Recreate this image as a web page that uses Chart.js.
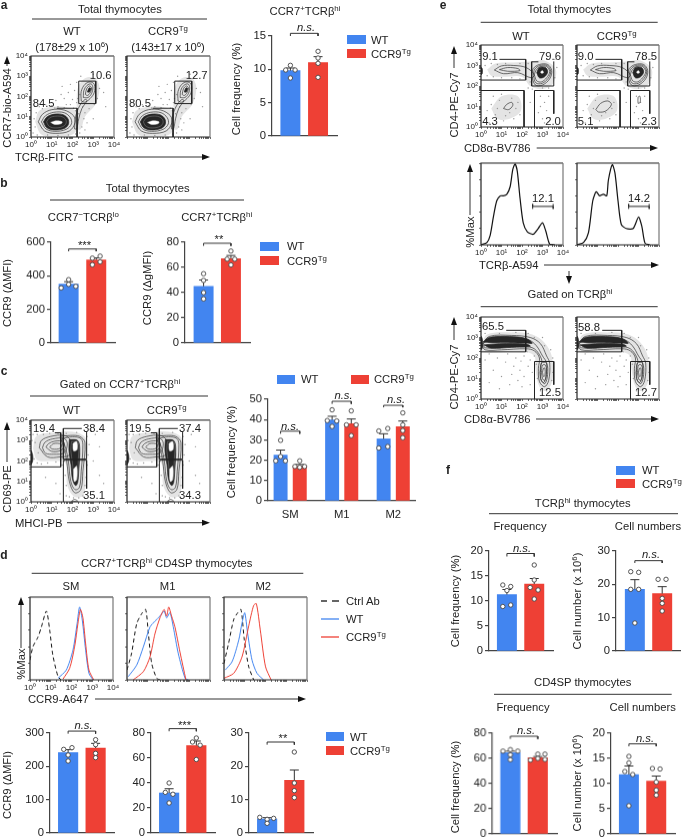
<!DOCTYPE html>
<html>
<head>
<meta charset="utf-8">
<script src="https://cdn.jsdelivr.net/npm/chart.js@4/dist/chart.umd.js"></script>
<style>
html,body{margin:0;padding:0;background:#fff;}
#page{position:relative;width:685px;height:839px;overflow:hidden;font-family:"Liberation Sans",Arial,sans-serif;font-size:11.25px;color:#222;}
#page canvas{position:absolute;}
.t{position:absolute;white-space:nowrap;line-height:12px;}
.t sup{font-size:70%;line-height:0;vertical-align:.5em;}
#lines{position:absolute;left:0;top:0;}
</style>
</head>
<body>
<div id="page"><svg id="lines" width="685" height="839"></svg></div>
<script>
const blue = '#4285f0', red = '#ee4035';
const TG = 'CCR9<sup>Tg</sup>', HI = 'CCR7<sup>+</sup>TCRβ<sup>hi</sup>';

// ---- bar panels: means, errors, dots [x offset, value], bracket [yEnd, yTop]
const aWt = [9.8], aTg = [11.0], aErr = [[0.4], [0.9]];
const aWtDots = [[0, 10.6], [-.17, 9.9], [.17, 9.9], [0, 8.7]];
const aTgDots = [[0, 12.7], [0, 11.7], [0, 10.9], [0, 8.8]];
const aBracket = [15.0, 15.4];

const b1Wt = [350], b1Tg = [495], b1Err = [[15], [12]];
const b1WtDots = [[0, 377], [-.27, 328], [0, 349], [.26, 337]];
const b1TgDots = [[-.14, 505], [.14, 517], [-.14, 466], [.14, 483]];
const b1Bracket = [546, 560];

const b2Wt = [45], b2Tg = [67], b2Err = [[5], [2.5]];
const b2WtDots = [[0, 55], [0, 49.7], [0, 40], [0, 35]];
const b2TgDots = [[0, 73], [-.14, 66.6], [.14, 66.6], [0, 62]];
const b2Bracket = [77.1, 79.2];

const cCats = ['SM', 'M1', 'M2'];
const cWt = [22.5, 39.8, 30.5], cTg = [17, 38, 36.5];
const cErr = [[2.5, 1.8, 2.5], [.9, 2.3, 2.8]];
const cWtDots = [[[0, 29.8], [-.094, 19.7], [0, 21.8], [.094, 19.7]], [[0, 44.8], [-.094, 39.5], [.09, 39.3], [0, 36.6]], [[-.094, 34.4], [.08, 35.6], [-.094, 26], [.08, 26.7]]];
const cTgDots = [[[0, 19.7], [-.094, 16.9], [0, 16.5], [.094, 16.9]], [[0, 44.3], [-.094, 37.4], [.094, 37.4], [0, 32.1]], [[0, 43.3], [0, 37.4], [0, 34.6], [0, 31.1]]];
const cBrackets = [[33, 34.3], [47.7, 49], [46, 47]];

const d1Wt = [241], d1Tg = [255], d1Err = [[9], [14]];
const d1WtDots = [[-.16, 251], [.14, 256], [0, 234], [0, 216]];
const d1TgDots = [[0, 280], [0, 265], [0, 239], [0, 226]];
const d1Bracket = [298, 305.8];

const d2Wt = [32], d2Tg = [70], d2Err = [[3.4], [3.6]];
const d2WtDots = [[0, 40], [-.14, 32.5], [.14, 31], [0, 24]];
const d2TgDots = [[0, 76], [-.14, 72.8], [.14, 70.3], [0, 58.8]];
const d2Bracket = [81.4, 83.5];

const d3Wt = [4.2], d3Tg = [15.8], d3Err = [[.4], [3.1]];
const d3WtDots = [[-.27, 4.7], [0, 4.1], [.24, 4.4], [0, 2.9]];
const d3TgDots = [[0, 24.3], [0, 15], [0, 12.7], [0, 10.6]];
const d3Bracket = [26.5, 27.3];

const f1Wt = [11.3], f1Tg = [13.4], f1Err = [[1.0], [1.1]];
const f1WtDots = [[-.15, 13.2], [.14, 12.9], [0, 12.1], [-.15, 8.9], [.14, 9.2]];
const f1TgDots = [[0, 17.2], [0, 14.2], [-.15, 12.7], [.14, 12.2], [0, 10.4]];
const f1Bracket = [18.9, 19.5];

const f2Wt = [18.5], f2Tg = [17.2], f2Err = [[2.9], [2.1]];
const f2WtDots = [[-.15, 23.8], [.14, 23.6], [-.15, 18.5], [.14, 18.5], [0, 8.4]];
const f2TgDots = [[-.15, 21.5], [.14, 21.5], [0, 15.8], [0, 14.3], [0, 12]];
const f2Bracket = [26.4, 27.1];

const f3Wt = [64.5], f3Tg = [60.5], f3Err = [[1.3], [1]];
const f3WtDots = [[-.27, 65.8], [0, 67], [.27, 65.8], [0, 62.9], [0, 59]];
const f3TgDots = [[-.27, 58.7], [0, 63.4], [.26, 63.4], [0, 60], [.26, 59.2]];
const f3Bracket = [75.5, 77.6];

const f4Wt = [11.8], f4Tg = [10.5], f4Err = [[1.7], [1.0]];
const f4WtDots = [[0, 15.4], [0, 14.1], [-.15, 12.4], [.14, 11.8], [0, 5.6]];
const f4TgDots = [[-.14, 13], [.14, 12.9], [0, 10.3], [0, 8.7], [0, 7.7]];
const f4Bracket = [17.4, 17.9];

// ---- histograms: [log10 intensity, % of max]
const eWtHist = [[0,0],[.29,3],[.45,12],[.61,35],[.77,54],[.94,60],[1.1,60],[1.26,62],[1.42,71],[1.55,92],[1.66,99],[1.77,90],[1.9,58],[2.06,27],[2.26,16],[2.55,13],[2.79,20],[3,27],[3.16,17],[3.35,1],[3.6,0]];
const eTgHist = [[0,0],[.32,3],[.56,15],[.77,54],[.94,65],[1.1,60],[1.29,62],[1.45,60],[1.53,79],[1.72,98],[1.85,88],[2,54],[2.16,25],[2.4,20],[2.74,20],[3,34],[3.16,23],[3.32,2],[3.55,0]];
const eGate = [[2.52,44],[2.52,50],[2.52,47],[3.52,47],[3.52,44],[3.52,50]];

const smCtrl = [[0,24],[.14,40],[.39,52],[.55,64],[.79,83],[.95,60],[1.1,30],[1.35,4],[1.5,0]];
const smWt = [[1.35,2],[1.75,12],[2.07,36],[2.27,68],[2.39,88],[2.52,72],[2.68,36],[2.84,8],[3.04,0]];
const smTg = [[1.59,1],[1.91,14],[2.15,40],[2.31,68],[2.43,85],[2.55,75],[2.68,44],[2.84,12],[3.07,0]];
const m1Ctrl = [[0,12],[.22,32],[.47,68],[.71,80],[.9,85],[1.03,56],[1.19,20],[1.43,2],[1.6,0]];
const m1Wt = [[.06,4],[.47,18],[.79,40],[1.11,64],[1.35,71],[1.59,77],[1.79,83],[1.91,75],[2.07,81],[2.23,64],[2.47,32],[2.8,2],[2.96,0]];
const m1Tg = [[.3,0],[.79,10],[1.11,28],[1.35,56],[1.59,75],[1.79,85],[1.91,77],[2.01,88],[2.15,77],[2.31,64],[2.55,34],[2.84,0]];
const m2Ctrl = [[0,20],[.22,44],[.47,73],[.66,81],[.82,85],[.98,48],[1.19,16],[1.43,0]];
const m2Wt = [[.06,12],[.39,22],[.71,48],[.87,69],[1,81],[1.14,56],[1.35,24],[1.59,8],[1.91,0]];
const m2Tg = [[0,2],[.47,8],[.87,28],[1.19,65],[1.43,90],[1.56,92],[1.75,60],[2,16],[2.27,0]];

// ---- flow plots, all in log10 units: haze, contours, dense cores, contours over cores, empty centres, gates, outliers
const aHalos = [[[.2,.75],[.4,1.3],[1,1.5],[1.7,1.48],[2.25,1.2],[2.3,.6],[2,.12],[1.2,.04],[.5,.12]],[[2.2,1.4],[2.25,2.4],[2.6,2.9],[3.1,2.9],[3.3,2.4],[3.1,1.6],[2.6,1],[2.4,.4],[2.15,.4],[2.15,1]]];
const aRings = [
  [[.35,.75],[.55,1.12],[1,1.35],[1.6,1.33],[2.05,1.05],[2.12,.7],[1.85,.3],[1.2,.18],[.65,.3]],
  [[.5,.75],[.7,1.05],[1.1,1.22],[1.6,1.2],[1.9,.95],[1.95,.65],[1.7,.38],[1.15,.28],[.72,.4]],
  [[2.42,1.78],[2.42,2.25],[2.6,2.6],[2.85,2.72],[3.05,2.6],[3.05,2.2],[2.85,1.9],[2.6,1.72]],
  [[2.52,1.95],[2.55,2.3],[2.7,2.55],[2.9,2.62],[2.98,2.45],[2.92,2.15],[2.75,1.95]],
  [[2.62,2.1],[2.68,2.38],[2.82,2.52],[2.92,2.42],[2.85,2.18],[2.72,2.05]],
  [[2.1,.4],[2.15,1],[2.35,1.55],[2.6,1.85],[2.7,1.8],[2.45,1.4],[2.3,.9],[2.2,.4]]
];
const aCores = [[[.6,.75],[.78,1],[1.15,1.13],[1.55,1.1],[1.78,.9],[1.8,.62],[1.6,.42],[1.1,.35],[.75,.47]],[[2.72,2.22],[2.8,2.42],[2.88,2.4],[2.82,2.22]]];
const aSeams = [[[.75,.75],[.9,.95],[1.2,1.03],[1.5,1],[1.68,.85],[1.68,.65],[1.5,.5],[1.1,.45],[.85,.55]]];
const aHoles = [[[.95,.72],[1.2,.8],[1.5,.75],[1.45,.65],[1.15,.62]]];
const aGates = [[[2.3,1.65],[2.3,2.76],[3.12,2.76],[3.12,1.65],[2.3,1.65]],[[1.24,1.42],[2.22,1.42],[2.22,0]]];
const aDots = [[.4,1.5],[.7,1.6],[1,1.55],[1.3,1.5],[1.6,1.45],[1.9,1.6],[1.2,1.8],[1.6,1.9],[2,1.85],[2.2,1.7],[1.45,2.1],[1.8,2.2],[2.1,2.3],[1.9,2.6],[2.2,2.7],[2.35,2.1],[3.2,2.9],[3.2,1.9],[3.3,2.4],[3.05,1.6],[2.8,1.4],[2.6,1.2],[2.55,.9],[2.7,.7],[2.45,.5],[2.35,.2],[2.6,.35],[2.3,1.15],[2.5,1.5],[.2,.5],[.15,.9],[.25,1.2],[.1,.2],[.3,.1],[.8,.1],[1.3,.08],[1.8,.1],[2.15,.15],[3,3.1],[2.4,3],[1.5,2.5],[3.5,2.2],[3.6,1.5],[3,.9],[2.15,1.3],[2.25,1.9],[1.7,1.6],[2.05,1.42],[.55,1.4],[1.15,1.43]];

const cHalos = [[[.1,2.6],[.25,3.2],[1,3.38],[2.2,3.4],[2.7,3],[2.62,1.5],[2.55,.35],[2.1,.25],[1.75,.8],[1.65,1.9],[1,2],[.3,2.05]]];
const cRings = [
  [[.4,2.65],[.5,3],[.95,3.2],[1.6,3.25],[1.9,3],[1.85,2.3],[1.4,2.2],[.8,2.2]],
  [[.55,2.65],[.68,2.92],[1.05,3.08],[1.6,3.1],[1.75,2.85],[1.6,2.4],[1.1,2.33],[.7,2.38]],
  [[.72,2.68],[.85,2.85],[1.15,2.97],[1.55,2.95],[1.6,2.7],[1.4,2.5],[1,2.47]],
  [[.9,2.68],[1.1,2.85],[1.45,2.82],[1.4,2.62],[1.05,2.58]],
  [[1.4,3.2],[1.9,3.25],[2.35,3.2],[2.6,2.9],[2.5,1.5],[2.4,.6],[2.1,.45],[1.85,1],[1.72,2],[1.6,2.6]],
  [[1.5,3.1],[2,3.18],[2.4,3.1],[2.5,2.8],[2.42,1.5],[2.33,.7],[2.12,.6],[1.92,1],[1.8,2],[1.68,2.6]],
  [[1.95,.03],[2.1,.12],[2.25,.03]]
];
const cCores = [[[1.85,3.05],[2.25,3],[2.35,2.6],[2.3,1.5],[2.25,.95],[2.15,.8],[2,1.1],[1.93,1.8],[1.83,2.5]],[[0,1.8],[.08,2],[.08,2.3],[0,2.5]]];
const cSeams = [[[1.95,2.95],[2.28,2.9],[2.28,2.1],[2.22,1.1],[2.1,1],[2,1.9],[1.92,2.5]]];
const cHoles = [[[2.02,2.85],[2.2,2.95],[2.22,2.55],[2.05,2.5]],[[2.05,1.6],[2.2,1.75],[2.2,1.1],[2.08,1]]];
const cGates = [[[1.15,3.38],[1.43,3.38],[1.43,1.71],[0,1.71]],[[2.45,3.59],[1.56,3.59],[1.56,2.09],[2.68,2.09],[2.68,3.45]],[[1.56,0],[1.56,2.04],[2.68,2.04],[2.68,.65]]];
const cDots = [[.05,3],[.1,3.3],[.2,2.9],[.3,3.3],[.35,2.4],[.15,2.1],[.3,1.9],[.5,1.85],[.8,1.9],[1.2,1.95],[1.5,1.8],[1.3,3.35],[.9,3.35],[.6,3.3],[1.7,3.35],[2.2,3.4],[2.7,3.2],[2.8,2.8],[2.75,2.3],[2.7,1.8],[2.65,1.2],[2.6,.8],[2.5,.3],[1.7,.8],[1.65,1.3],[1.7,.3],[1.85,.25],[2.3,.2],[2.05,.2],[3.1,3.3],[3.3,2.7],[3,2],[3.3,1.3],[3.5,.9],[3,.5],[1.6,2],[2.9,3.5],[1.2,.9],[1.4,.4],[.7,1.2]];

const eTopHalos = [[[.3,2.8],[.7,3.1],[1.6,3.15],[2.4,3.2],[3.1,3.25],[3.65,2.8],[3.5,2.1],[3,1.85],[2.4,2],[2,2.45],[1.1,2.45],[.5,2.5]],[[.5,.9],[1,1.5],[1.8,1.5],[1.95,.8],[1.4,.4],[.8,.4]]];
const eTopRings = [
  [[2.47,2.5],[2.55,2.85],[2.85,3.05],[3.25,3.05],[3.45,2.75],[3.35,2.35],[3,2.05],[2.65,2.05]],
  [[2.55,2.52],[2.62,2.82],[2.88,3],[3.22,3],[3.4,2.72],[3.28,2.38],[2.98,2.13],[2.68,2.15]],
  [[2.6,2.55],[2.7,2.8],[2.9,2.95],[3.2,2.95],[3.35,2.7],[3.2,2.4],[2.95,2.2],[2.72,2.25]],
  [[.65,2.78],[1,2.98],[1.6,3],[2.2,2.9],[2.6,2.55],[2.45,2.4],[1.8,2.65],[1.1,2.6]],
  [[.9,2.8],[1.3,2.9],[1.8,2.85],[1.9,2.75],[1.3,2.72]]
];
const eDnWt = [[1.1,.9],[1.25,1.1],[1.5,1.2],[1.55,1.05],[1.35,.85]];
const eDnTg = [[.92,.85],[1.15,1.15],[1.5,1.27],[1.68,1.1],[1.4,.78],[1.05,.73]];
const eCd8Tg = [[2.98,1.15],[2.98,1.45],[3.07,1.5],[3.08,1.2]];
const eTopCores = [[[2.72,2.65],[2.85,2.9],[3.15,2.9],[3.25,2.68],[3.1,2.45],[2.85,2.4]],[[0,2.55],[.06,2.6],[.06,2.85],[0,2.9]]];
const eTopHoles = [[[2.9,2.68],[3,2.75],[3.05,2.65],[2.95,2.62]]];
const eTopGates = [[[.9,3.3],[2.18,3.3],[2.18,2.29],[0,2.29]],[[2.8,3.18],[2.47,3.18],[2.47,2],[3.55,2],[3.55,3.2]],[[0,1.78],[2.1,1.78],[2.1,0]],[[2.61,0],[2.61,1.78],[3.55,1.78],[3.55,.65]]];
const eTopDots = [[.2,3],[.5,3.1],[.3,2.5],[.6,2.45],[1,2.4],[1.5,2.4],[1.9,2.35],[.8,3.05],[1.2,3.1],[1.9,3.1],[2.3,3.1],[2.4,2.2],[2.3,1.9],[2.5,1.85],[3,1.9],[3.3,1.9],[3.6,2.4],[3.7,2.9],[3.6,3.3],[3.2,3.3],[.6,1.5],[1,1.6],[1.5,1.4],[1.8,1.2],[1.9,.6],[1.6,.4],[1.1,.3],[.7,.6],[.5,1.1],[.9,1.3],[1.4,.7],[1.7,.9],[.8,.9],[1.2,.55],[.3,.8],[2.9,1.5],[3.1,1.2],[3.2,.8],[2.8,.7],[3,.4],[3.3,1.5],[2.9,1],[3.1,.2],[2.4,1.2],[.4,.2]];

const eBotHalos = [[[.02,2.6],[.3,3.15],[1.5,3.25],[2.5,3.15],[3.1,2.75],[3.45,2.1],[3.5,1],[3.2,.4],[2.85,.6],[2.65,1.5],[2.6,2.1],[2.1,2.3],[1,2.28],[.1,2.3]]];
const eBotRings = [
  [[.05,2.65],[.4,3.05],[1.5,3.1],[2.4,3],[2.9,2.7],[3.2,2.1],[3.35,1.75],[3.3,.9],[3.1,.6],[2.85,.85],[2.8,1.5],[2.85,2],[2.6,2.35],[2.2,2.45],[1,2.4],[.2,2.4]],
  [[.1,2.7],[.5,2.95],[1.5,3],[2.3,2.9],[2.7,2.6],[3,2.1],[3.2,1.75],[3.15,1],[3.05,.8],[2.9,1],[2.92,1.6],[2.95,1.95],[2.6,2.45],[2.1,2.55],[1,2.52],[.2,2.5]],
  [[2.88,1.3],[2.95,1.75],[3.2,1.75],[3.25,1.2],[3.12,.75],[2.95,.9]],
  [[2.95,1.3],[3,1.65],[3.15,1.65],[3.2,1.2],[3.1,.9],[3,1]],
  [[3,1.3],[3.05,1.5],[3.12,1.5],[3.12,1.15],[3.05,1.1]]
];
const eBotCores = [[[.1,2.78],[.4,3],[1.4,3.05],[2.2,2.95],[2.5,2.72],[2.2,2.73],[1.4,2.75],[.5,2.75]],[[.15,2.64],[.9,2.7],[2.2,2.68],[2.4,2.57],[1.5,2.52],[.5,2.48]],[[0,2.4],[.07,2.5],[.07,2.9],[0,3.05]]];
const eBotGates = [[[1.23,3.35],[2.18,3.35],[2.18,2.3],[0,2.3]],[[2.61,0],[2.61,1.83],[3.55,1.83],[3.55,.7]]];
const eBotDots = [[.8,2],[1.2,1.8],[1.6,1.6],[1.9,1.4],[1.5,1.2],[1.8,.9],[2.1,1.1],[2.3,1.6],[2.4,1.9],[2.5,1.3],[2.4,.7],[2,.6],[1.4,.7],[1,1.1],[.6,1.4],[.4,.8],[.9,.5],[1.7,2],[2.1,2.1],[2.6,2.1],[2.7,1.7],[3.4,2.4],[3.5,2],[3.5,1.3],[3.45,.9],[3.1,2.6],[3,3],[2.6,3],[2.9,.4],[3.2,.4],[2.75,1],[.2,3.2],[.9,3.2],[1.7,3.25],[2.3,3.2],[1.3,2.2],[.4,2.2],[.2,1.9],[1.95,1.85],[2.25,2.3]];

const decadeTicks = [0,.3,.48,.6,.7,.78,.85,.9,.95,1,1.3,1.48,1.6,1.7,1.78,1.85,1.9,1.95,2,2.3,2.48,2.6,2.7,2.78,2.85,2.9,2.95,3,3.3,3.48,3.6,3.7,3.78,3.85,3.9,3.95,4];
const sup = ['⁰', '¹', '²', '³', '⁴'];

Chart.defaults.font.family = '"Liberation Sans", Arial, sans-serif';
Chart.defaults.font.size = 11.25;
Chart.defaults.color = '#222';
Chart.defaults.animation = false;
Chart.defaults.plugins.legend.display = false;
Chart.defaults.plugins.tooltip.enabled = false;

const page = document.getElementById('page');
const svg = document.getElementById('lines');

function newCanvas(l, t, w, h) {
  const c = document.createElement('canvas');
  c.width = w; c.height = h;
  c.style.left = l + 'px'; c.style.top = t + 'px';
  c.style.width = w + 'px'; c.style.height = h + 'px';
  page.insertBefore(c, svg);
  return c;
}

const errPlugin = {
  id: 'errs',
  afterDatasetDraw(chart, args) {
    const ds = chart.data.datasets[args.index];
    if (!ds.errs) return;
    const ctx = chart.ctx, x = chart.scales.x, y = chart.scales.y;
    ctx.save();
    ctx.strokeStyle = '#333';
    ctx.lineWidth = 1;
    ds.data.forEach((d, i) => {
      const px = x.getPixelForValue(d.x);
      const y0 = y.getPixelForValue(d.y), y1 = y.getPixelForValue(d.y + ds.errs[i]);
      ctx.beginPath();
      ctx.moveTo(px, y0); ctx.lineTo(px, y1);
      ctx.moveTo(px - 4.5, y1); ctx.lineTo(px + 4.5, y1);
      ctx.stroke();
    });
    ctx.restore();
  }
};

const framePlugin = {
  id: 'frame',
  afterDraw(chart) {
    const a = chart.chartArea, ctx = chart.ctx;
    ctx.save();
    ctx.lineWidth = 1.2;
    ctx.strokeStyle = '#222';
    ctx.beginPath();
    ctx.moveTo(a.left, a.bottom); ctx.lineTo(a.left, a.top); ctx.lineTo(a.right, a.top);
    ctx.moveTo(a.left, a.bottom); ctx.lineTo(a.right, a.bottom);
    ctx.stroke();
    ctx.strokeStyle = '#777';
    ctx.beginPath();
    ctx.moveTo(a.right, a.top); ctx.lineTo(a.right, a.bottom);
    ctx.stroke();
    ctx.restore();
  }
};

// p: axisX, right, top, bottom, max, step, c1 (first centre), pitch, barW
function barPanel(p, wt, tg, errs, wtDots, tgDots, brackets, cats) {
  const xW = wt.map((v, i) => cats ? i + 1 - .186 : 1);
  const xT = tg.map((v, i) => cats ? i + 1 + .186 : 2);
  const L = p.axisX - 40, T = p.top - 30;
  const W = p.right - L + 1, H = p.bottom - T + (cats ? 24 : 8);
  const dots = (list, xs) => list.flatMap((group, i) => group.map(d => ({ x: xs[i] + d[0], y: d[1] })));
  const nest = (list) => cats ? list : [list];
  const bs = cats ? brackets : [brackets];
  const datasets = [
    { type: 'bar', order: 3, data: wt.map((v, i) => ({ x: xW[i], y: v })), backgroundColor: blue, errs: errs[0], barThickness: p.barW, grouped: false },
    { type: 'bar', order: 3, data: tg.map((v, i) => ({ x: xT[i], y: v })), backgroundColor: red, errs: errs[1], barThickness: p.barW, grouped: false },
    { type: 'scatter', order: 1, clip: false, data: dots(nest(wtDots), xW), pointRadius: 2.2, pointBackgroundColor: '#fff', pointBorderColor: '#444', pointBorderWidth: .9 },
    { type: 'scatter', order: 1, clip: false, data: dots(nest(tgDots), xT), pointRadius: 2.2, pointBackgroundColor: '#fff', pointBorderColor: '#444', pointBorderWidth: .9 }
  ];
  bs.forEach((b, i) => {
    datasets.push({
      type: 'scatter', order: 2, clip: false, showLine: true, pointRadius: 0, borderColor: '#333', borderWidth: 1,
      data: [{ x: xW[i], y: b[0] }, { x: xW[i], y: b[1] }, { x: xT[i], y: b[1] }, { x: xT[i], y: b[0] }]
    });
  });
  new Chart(newCanvas(L, T, W, H), {
    type: 'bar',
    data: { datasets },
    plugins: [errPlugin],
    options: {
      responsive: false,
      layout: { padding: { top: 30, right: 1, bottom: cats ? 0 : 8 } },
      scales: {
        x: {
          type: 'linear', offset: false,
          min: 1 - (p.c1 - p.axisX) / p.pitch,
          max: 1 + (p.right - p.c1) / p.pitch,
          afterBuildTicks: a => { a.ticks = cats ? cats.map((c, i) => ({ value: i + 1 })) : []; },
          afterFit: s => { s.height = cats ? 24 : 1; },
          ticks: { display: !!cats, callback: v => cats ? cats[v - 1] : '', padding: 7, autoSkip: false, maxRotation: 0 },
          grid: { drawOnChartArea: false, drawTicks: false },
          border: { color: '#444', width: 1.2 }
        },
        y: {
          min: 0, max: p.max,
          afterFit: s => { s.width = 40; },
          ticks: { stepSize: p.step, padding: 2 },
          grid: { drawOnChartArea: false, tickLength: 4, color: '#444', lineWidth: 1.2 },
          border: { color: '#444', width: 1.2 }
        }
      }
    }
  });
}

function closed(poly, dx, dy) {
  return poly.concat([poly[0]]).map(q => ({ x: q[0] + dx, y: q[1] + dy }));
}

function logAxis(labels, afterFit) {
  return {
    min: 0, max: 4,
    afterBuildTicks: a => { a.ticks = decadeTicks.map(v => ({ value: v })); },
    afterFit,
    ticks: {
      display: labels, autoSkip: false, maxRotation: 0, padding: 1, font: { size: 8 },
      callback: v => Number.isInteger(v) ? '10' + sup[v] : ''
    },
    grid: { drawOnChartArea: false, tickLength: 2, color: '#444', lineWidth: .8 },
    border: { display: false }
  };
}

// r: left, right, top, bottom
function flowPlot(r, labels, f) {
  const dx = f.dx || 0, dy = f.dy || 0;
  const L = r.left - 16, T = r.top - 6, W = r.right - L + 9, H = r.bottom - T + 14;
  const datasets = [];
  const shape = (poly, color, w, back) => {
    const d = { type: 'scatter', showLine: true, tension: .35, pointRadius: 0, borderColor: color, borderWidth: w, data: closed(poly, dx, dy) };
    if (back) { d.fill = 'shape'; d.backgroundColor = back; }
    datasets.push(d);
  };
  (f.halos || []).forEach(poly => shape(poly, 'rgba(0,0,0,0)', 0, '#e4e4e4'));
  datasets.push({ type: 'scatter', data: f.dots.map(q => ({ x: q[0] + dx, y: q[1] + dy })), pointRadius: .7, pointBackgroundColor: '#999', pointBorderWidth: 0 });
  f.rings.forEach(poly => shape(poly, '#333', .7));
  f.cores.forEach(poly => shape(poly, '#262626', .7, '#262626'));
  (f.seams || []).forEach(poly => shape(poly, '#8a8a8a', .5));
  (f.holes || []).forEach(poly => shape(poly, '#ddd', .5, '#fff'));
  f.gates.forEach(line => datasets.push({ type: 'scatter', showLine: true, pointRadius: 0, borderColor: '#222', borderWidth: 1, data: line.map(q => ({ x: q[0], y: q[1] })) }));
  datasets.reverse(); // first dataset is painted last
  new Chart(newCanvas(L, T, W, H), {
    type: 'scatter',
    data: { datasets },
    plugins: [framePlugin],
    options: {
      responsive: false,
      layout: { padding: { top: 6, right: 9 } },
      scales: {
        x: logAxis(labels, s => { s.height = 14; }),
        y: logAxis(labels, s => { s.width = 16; })
      }
    }
  });
}

function histPlot(r, labels, curves, gate) {
  const L = r.left - 16, T = r.top - 6, W = r.right - L + 9, H = r.bottom - T + 14;
  const datasets = curves.map(c => ({
    type: 'scatter', showLine: true, tension: .25, pointRadius: 0, borderColor: c.color, borderWidth: c.width || 1, borderDash: c.dash || [],
    data: c.data.map(q => ({ x: q[0], y: q[1] }))
  }));
  if (gate) datasets.push({ type: 'scatter', showLine: true, pointRadius: 0, borderColor: '#222', borderWidth: 1, data: gate.map(q => ({ x: q[0], y: q[1] })) });
  datasets.reverse();
  new Chart(newCanvas(L, T, W, H), {
    type: 'scatter',
    data: { datasets },
    plugins: [framePlugin],
    options: {
      responsive: false,
      layout: { padding: { top: 6, right: 9 } },
      scales: {
        x: logAxis(labels, s => { s.height = 14; }),
        y: {
          min: 0, max: 100,
          afterFit: s => { s.width = 16; },
          ticks: { display: false, stepSize: 20 },
          grid: { drawOnChartArea: false, tickLength: 2, color: '#444', lineWidth: .8 },
          border: { display: false }
        }
      }
    }
  });
}

// ---- text and line helpers
function txt(x, y, s, o) {
  o = o || {};
  const d = document.createElement('div');
  d.className = 't';
  d.innerHTML = s;
  d.style.left = x + 'px';
  d.style.top = y + 'px';
  const tx = o.left ? '0' : '-50%';
  d.style.transform = 'translate(' + tx + ',-50%)' + (o.rot ? ' rotate(-90deg)' : '');
  if (o.size) d.style.fontSize = o.size + 'px';
  if (o.bold) d.style.fontWeight = 'bold';
  if (o.italic) d.style.fontStyle = 'italic';
  page.appendChild(d);
}
function rule(x1, y1, x2, y2, color, w) {
  svg.insertAdjacentHTML('beforeend', `<line x1="${x1}" y1="${y1}" x2="${x2}" y2="${y2}" stroke="${color || '#333'}" stroke-width="${w || 1}"/>`);
}
function arrowR(x1, x2, y) {
  rule(x1, y, x2 - 6, y, '#333', 1);
  svg.insertAdjacentHTML('beforeend', `<polygon points="${x2 - 8},${y - 3} ${x2},${y} ${x2 - 8},${y + 3}" fill="#111"/>`);
}
function arrowU(x, y1, y2) {
  rule(x, y1, x, y2 + 6, '#333', 1);
  svg.insertAdjacentHTML('beforeend', `<polygon points="${x - 3},${y2 + 8} ${x},${y2} ${x + 3},${y2 + 8}" fill="#111"/>`);
}
function arrowD(x, y1, y2) {
  rule(x, y1, x, y2 - 6, '#333', 1);
  svg.insertAdjacentHTML('beforeend', `<polygon points="${x - 3},${y2 - 8} ${x},${y2} ${x + 3},${y2 - 8}" fill="#111"/>`);
}
function swatch(x, y, w, h, color) {
  const d = document.createElement('div');
  d.style.cssText = `position:absolute;left:${x}px;top:${y}px;width:${w}px;height:${h}px;background:${color}`;
  page.appendChild(d);
}
function legend(x, y1, y2, tx) {
  swatch(x, y1, 18.5, 9, blue);
  swatch(x, y2, 18.5, 9, red);
  txt(tx, y1 + 4.5, 'WT', { left: true });
  txt(tx, y2 + 4.5, TG, { left: true });
}
const NS = (x, y) => txt(x, y, 'n.s.', { italic: true });

// ---- panel a
txt(4, 5, 'a', { bold: true, size: 12 });
txt(120, 9, 'Total thymocytes'); rule(32, 19, 207, 19);
txt(72, 31, 'WT'); txt(168, 31, TG);
txt(72, 46.7, '(178±29 x 10<sup>6</sup>)'); txt(168, 46.7, '(143±17 x 10<sup>6</sup>)');
flowPlot({ left: 31, right: 114, top: 56, bottom: 137 }, true, { halos: aHalos, rings: aRings, cores: aCores, seams: aSeams, holes: aHoles, gates: aGates, dots: aDots });
flowPlot({ left: 127, right: 210, top: 56, bottom: 137 }, false, { halos: aHalos, rings: aRings, cores: aCores, seams: aSeams, holes: aHoles, gates: aGates, dots: aDots, dx: .04 });
txt(100.7, 75, '10.6'); txt(43.7, 102.7, '84.5'); txt(196.7, 75, '12.7'); txt(140, 102.7, '80.5');
txt(7, 108, 'CCR7-bio-A594', { rot: true }); arrowU(7, 66, 56);
txt(15, 157, 'TCRβ-FITC', { left: true }); arrowR(78, 210, 157);
txt(305, 11, HI); NS(306, 27);
txt(235.7, 89, 'Cell frequency (%)', { rot: true });
barPanel({ axisX: 272, right: 341, top: 36, bottom: 137, max: 15, step: 5, c1: 291.5, pitch: 29.3, barW: 19.3 }, aWt, aTg, aErr, aWtDots, aTgDots, aBracket);
legend(347, 35, 49, 371);

// ---- panel b
txt(4, 183, 'b', { bold: true, size: 12 });
txt(147.7, 188.3, 'Total thymocytes'); rule(50, 200, 244, 200);
txt(83.3, 217, 'CCR7<sup>−</sup>TCRβ<sup>lo</sup>'); txt(216.7, 217, HI);
txt(7, 293, 'CCR9 (ΔMFI)', { rot: true }); txt(147, 288, 'CCR9 (ΔgMFI)', { rot: true });
barPanel({ axisX: 51, right: 119, top: 242.3, bottom: 343.7, max: 600, step: 200, c1: 69.7, pitch: 29.3, barW: 19.3 }, b1Wt, b1Tg, b1Err, b1WtDots, b1TgDots, b1Bracket);
barPanel({ axisX: 185, right: 254, top: 242.3, bottom: 343.7, max: 80, step: 20, c1: 204.7, pitch: 29, barW: 19.3 }, b2Wt, b2Tg, b2Err, b2WtDots, b2TgDots, b2Bracket);
txt(84.5, 245, '***'); txt(219, 239, '**');
legend(260, 241.7, 256, 287);

// ---- panel c
txt(4, 371, 'c', { bold: true, size: 12 });
txt(120, 384, 'Gated on ' + HI); rule(30, 396, 208, 396);
txt(71.7, 410, 'WT'); txt(166.7, 410, TG);
flowPlot({ left: 31, right: 114, top: 420, bottom: 501.7 }, true, { halos: cHalos, rings: cRings, cores: cCores, seams: cSeams, holes: cHoles, gates: cGates, dots: cDots });
flowPlot({ left: 127, right: 210, top: 420, bottom: 501.7 }, false, { halos: cHalos, rings: cRings, cores: cCores, seams: cSeams, holes: cHoles, gates: cGates, dots: cDots });
txt(44, 427.7, '19.4'); txt(94, 427.7, '38.4'); txt(94, 495, '35.1');
txt(140, 427.7, '19.5'); txt(190, 427.7, '37.4'); txt(190, 495, '34.3');
txt(7, 489, 'CD69-PE', { rot: true }); arrowU(7, 462, 422);
txt(15, 522.7, 'MHCI-PB', { left: true }); arrowR(67, 210, 522.7);
txt(231, 452, 'Cell frequency (%)', { rot: true });
barPanel({ axisX: 267.7, right: 419, top: 399.3, bottom: 501, max: 50, step: 10, c1: 290.5, pitch: 53, barW: 13.3 }, cWt, cTg, cErr, cWtDots, cTgDots, cBrackets, cCats);
NS(290, 425.7); NS(343.5, 395.3); NS(396, 399.3);
swatch(277, 374.7, 18, 9, blue); txt(301, 379, 'WT', { left: true });
swatch(350.7, 374.7, 18, 9, red); txt(374, 379, TG, { left: true });

// ---- panel d
txt(4, 555, 'd', { bold: true, size: 12 });
txt(166.7, 563.3, 'CCR7<sup>+</sup>TCRβ<sup>hi</sup> CD4SP thymocytes'); rule(31.7, 573.3, 303.3, 573.3);
txt(71, 586, 'SM'); txt(167.7, 586, 'M1'); txt(263.3, 586, 'M2');
const hist3 = (ctrl, wt, tg) => [{ data: ctrl, color: '#111', dash: [4, 3] }, { data: wt, color: blue }, { data: tg, color: red }];
histPlot({ left: 30, right: 113, top: 597.3, bottom: 680 }, true, hist3(smCtrl, smWt, smTg));
histPlot({ left: 127, right: 210, top: 597.3, bottom: 680 }, false, hist3(m1Ctrl, m1Wt, m1Tg));
histPlot({ left: 223.7, right: 306.7, top: 597.3, bottom: 680 }, false, hist3(m2Ctrl, m2Wt, m2Tg));
txt(21, 664, '%Max', { rot: true }); arrowU(21, 648, 597);
txt(28, 699, 'CCR9-A647', { left: true }); arrowR(95, 306, 699);
rule(321, 601, 327, 601, '#111', 1.3); rule(332, 601, 339, 601, '#111', 1.3);
rule(321, 619, 339, 619, blue, 1.3); rule(321, 637, 339, 637, red, 1.3);
txt(346, 601, 'Ctrl Ab', { left: true }); txt(346, 619, 'WT', { left: true }); txt(346, 637, TG, { left: true });
txt(7, 785, 'CCR9 (ΔMFI)', { rot: true });
barPanel({ axisX: 49.7, right: 118, top: 732.7, bottom: 834.3, max: 300, step: 100, c1: 69, pitch: 29.3, barW: 19.5 }, d1Wt, d1Tg, d1Err, d1WtDots, d1TgDots, d1Bracket);
barPanel({ axisX: 150.7, right: 219, top: 732.7, bottom: 834.3, max: 80, step: 20, c1: 170, pitch: 29, barW: 19.5 }, d2Wt, d2Tg, d2Err, d2WtDots, d2TgDots, d2Bracket);
barPanel({ axisX: 249, right: 317.3, top: 732.7, bottom: 834.3, max: 30, step: 10, c1: 268.3, pitch: 29, barW: 19.5 }, d3Wt, d3Tg, d3Err, d3WtDots, d3TgDots, d3Bracket);
NS(83.5, 724.5); txt(184.5, 725, '***'); txt(283, 738, '**');
legend(325.7, 732.3, 746, 350);

// ---- panel e
txt(443, 5, 'e', { bold: true, size: 12 });
txt(569.3, 9, 'Total thymocytes'); rule(480.7, 22.3, 657.7, 22.3);
txt(521, 36, 'WT'); txt(616.7, 36, TG);
const eL = 480.7, eR = 563.3, e2L = 576.7, e2R = 659.3;
flowPlot({ left: eL, right: eR, top: 45, bottom: 127 }, true, { halos: eTopHalos, rings: eTopRings.concat([eDnWt]), cores: eTopCores, holes: eTopHoles, gates: eTopGates, dots: eTopDots });
flowPlot({ left: e2L, right: e2R, top: 45, bottom: 127 }, false, { halos: eTopHalos, rings: eTopRings.concat([eDnTg, eCd8Tg]), cores: eTopCores, holes: eTopHoles, gates: eTopGates, dots: eTopDots });
txt(490, 55.7, '9.1'); txt(550, 55.7, '79.6'); txt(490, 121, '4.3'); txt(553, 121, '2.0');
txt(585.7, 55.7, '9.0'); txt(646, 55.7, '78.5'); txt(585.7, 121, '5.1'); txt(649, 121, '2.3');
txt(454, 105, 'CD4-PE-Cy7', { rot: true }); arrowU(454, 68, 46);
txt(464, 148, 'CD8α-BV786', { left: true }); arrowR(536.7, 658, 148);

histPlot({ left: eL, right: eR, top: 163.3, bottom: 245 }, true, [{ data: eWtHist, color: '#111', width: 1.2 }], eGate);
histPlot({ left: e2L, right: e2R, top: 163.3, bottom: 245 }, false, [{ data: eTgHist, color: '#111', width: 1.2 }], eGate);
txt(543, 198, '12.1'); txt(639, 198, '14.2');
txt(470, 232, '%Max', { rot: true }); arrowU(470, 215, 164);
txt(479, 265, 'TCRβ-A594', { left: true }); arrowR(544, 659, 265);
arrowD(569, 271, 284);

txt(570, 294, 'Gated on TCRβ<sup>hi</sup>'); rule(480.7, 306.7, 657.7, 306.7);
flowPlot({ left: eL, right: eR, top: 316.7, bottom: 399 }, true, { halos: eBotHalos, rings: eBotRings, cores: eBotCores, gates: eBotGates, dots: eBotDots });
flowPlot({ left: e2L, right: e2R, top: 316.7, bottom: 399 }, false, { halos: eBotHalos, rings: eBotRings, cores: eBotCores, gates: eBotGates, dots: eBotDots });
txt(493, 326, '65.5'); txt(550, 391.7, '12.5'); txt(589, 326.7, '58.8'); txt(646, 391.7, '12.7');
txt(454, 377, 'CD4-PE-Cy7', { rot: true }); arrowU(454, 340, 317);
txt(464, 419, 'CD8α-BV786', { left: true }); arrowR(536, 659, 419);

// ---- panel f
txt(448, 470, 'f', { bold: true, size: 12 });
legend(616, 465.7, 479, 642);
txt(582.7, 502.7, 'TCRβ<sup>hi</sup> thymocytes'); rule(489, 513.7, 678, 513.7);
txt(520, 525.7, 'Frequency'); txt(648, 525.7, 'Cell numbers');
txt(455, 601, 'Cell frequency (%)', { rot: true }); txt(577, 601, 'Cell number (x 10<sup>6</sup>)', { rot: true });
barPanel({ axisX: 488.7, right: 556.7, top: 551, bottom: 652.3, max: 20, step: 5, c1: 507.7, pitch: 29, barW: 19.3 }, f1Wt, f1Tg, f1Err, f1WtDots, f1TgDots, f1Bracket);
barPanel({ axisX: 616, right: 684, top: 551, bottom: 652.3, max: 30, step: 10, c1: 636, pitch: 29, barW: 19.3 }, f2Wt, f2Tg, f2Err, f2WtDots, f2TgDots, f2Bracket);
NS(522, 547.7); NS(651, 554.3);

txt(582.7, 682, 'CD4SP thymocytes'); rule(494, 694.3, 671.7, 694.3);
txt(523, 707.3, 'Frequency'); txt(642.7, 707.3, 'Cell numbers');
txt(455, 786.7, 'Cell frequency (%)', { rot: true }); txt(577, 783, 'Cell number (x 10<sup>6</sup>)', { rot: true });
barPanel({ axisX: 492.3, right: 560.7, top: 733.3, bottom: 834.7, max: 80, step: 20, c1: 511.3, pitch: 29, barW: 19.3 }, f3Wt, f3Tg, f3Err, f3WtDots, f3TgDots, f3Bracket);
barPanel({ axisX: 611, right: 679, top: 733.3, bottom: 834.7, max: 20, step: 5, c1: 630, pitch: 29, barW: 19.3 }, f4Wt, f4Tg, f4Err, f4WtDots, f4TgDots, f4Bracket);
NS(526, 730.3); NS(645, 737.7);
</script>
</body>
</html>
